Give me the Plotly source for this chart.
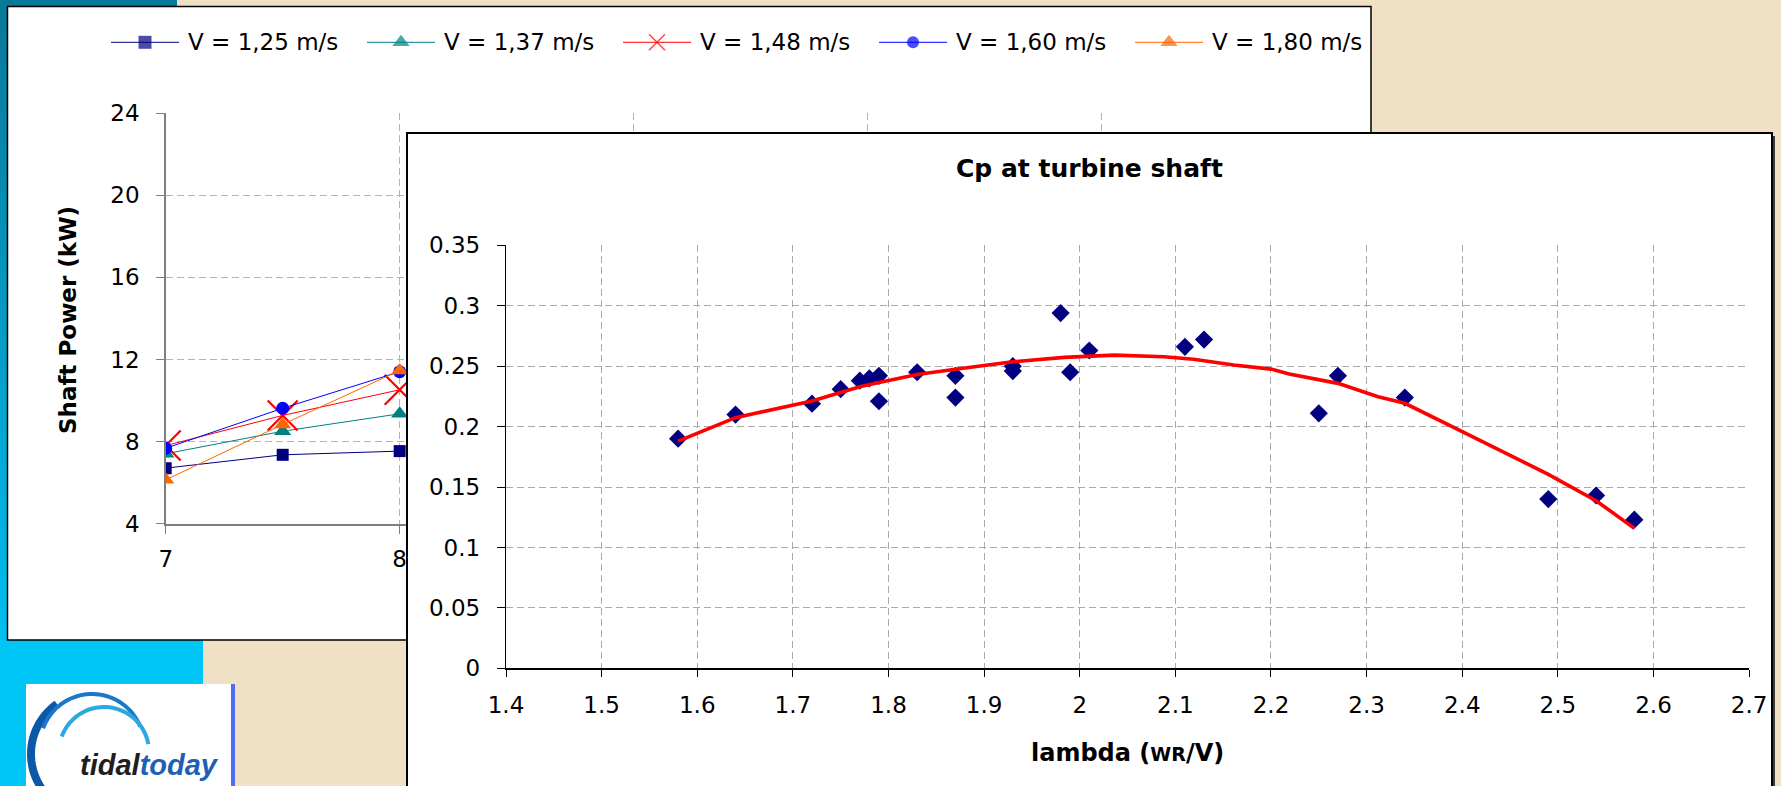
import numpy as np
import plotly.graph_objects as go

W, H = 1781, 786
FONT = "DejaVu Sans"

# ---- Shaft power vs rotor speed (rpm, kW) ----
rpm = [7, 7.5, 8]
power_v125 = [6.70, 7.35, 7.53]
power_v137 = [7.40, 8.50, 9.35]
power_v148 = [7.80, 9.27, 10.52]
power_v160 = [7.67, 9.62, 11.40]
power_v180 = [6.13, 8.83, 11.46]
speed_labels = ["V = 1,25 m/s", "V = 1,37 m/s", "V = 1,48 m/s", "V = 1,60 m/s", "V = 1,80 m/s"]
rpm_ticks = [7, 8, 9, 10, 11, 12]
power_ticks = [4, 8, 12, 16, 20, 24]

# ---- Cp at turbine shaft vs tip speed ratio ----
lam = [1.58, 1.64, 1.72, 1.75, 1.77, 1.78, 1.79, 1.79, 1.83, 1.87, 1.87, 1.93,
       1.93, 1.98, 1.99, 2.01, 2.11, 2.13, 2.25, 2.27, 2.34, 2.49, 2.54, 2.58]
cp = [0.190, 0.210, 0.219, 0.231, 0.238, 0.240, 0.242, 0.221, 0.245, 0.242, 0.224, 0.250,
      0.246, 0.294, 0.245, 0.263, 0.266, 0.272, 0.211, 0.242, 0.224, 0.140, 0.143, 0.123]
trend_lam = [1.58, 1.64, 1.72, 1.77, 1.79, 1.83, 1.87, 1.93, 1.984, 2.01, 2.036, 2.088,
             2.119, 2.161, 2.20, 2.219, 2.27, 2.312, 2.34, 2.40, 2.49, 2.54, 2.58]
trend_cp = [0.188, 0.2074, 0.2212, 0.2330, 0.2366, 0.2432, 0.2474, 0.2537, 0.2573, 0.2584, 0.2592, 0.2578,
            0.2557, 0.2510, 0.2476, 0.2435, 0.2358, 0.2247, 0.2193, 0.1958, 0.1605, 0.1387, 0.1158]
lam_ticks = [1.4, 1.5, 1.6, 1.7, 1.8, 1.9, 2.0, 2.1, 2.2, 2.3, 2.4, 2.5, 2.6, 2.7]
lam_ticktext = ["1.4", "1.5", "1.6", "1.7", "1.8", "1.9", "2", "2.1", "2.2", "2.3", "2.4", "2.5", "2.6", "2.7"]
cp_ticks = [0, 0.05, 0.1, 0.15, 0.2, 0.25, 0.3, 0.35]
cp_ticktext = ["0", "0.05", "0.1", "0.15", "0.2", "0.25", "0.3", "0.35"]

# marker / line style per flow speed
series_styles = [
    dict(color="#000080", symbol="square", size=12, lw=0),
    dict(color="#008080", symbol="triangle-up", size=15, lw=0),
    dict(color="#ff0000", symbol="x-thin-open", size=30, lw=2.2),
    dict(color="#0000ff", symbol="circle", size=13, lw=0),
    dict(color="#ff6600", symbol="triangle-up", size=15, lw=0),
]
legend_sizes = [13, 15, 16, 12, 15]


def fx(x):
    return x / W


def fy(y):
    return 1 - y / H


def rect(x0, y0, x1, y1, fill, line_color=None, line_width=0, layer="below"):
    return dict(type="rect", xref="paper", yref="paper",
                x0=fx(x0), x1=fx(x1), y0=fy(y1), y1=fy(y0),
                fillcolor=fill, layer=layer,
                line=dict(color=line_color or fill, width=line_width))


def arc_path(cx, cy, r, a0, a1, n=40):
    t = np.radians(np.linspace(a0, a1, n))
    xs = cx + r * np.cos(t)
    ys = cy - r * np.sin(t)
    pts = [f"{fx(x):.5f},{fy(y):.5f}" for x, y in zip(xs, ys)]
    return "M" + " L".join(pts)


fig = go.Figure()

# back chart series
power_series = [power_v125, power_v137, power_v148, power_v160, power_v180]
for name, vals, st in zip(speed_labels, power_series, series_styles):
    fig.add_trace(go.Scatter(
        x=rpm, y=vals, name=name, mode="lines+markers", xaxis="x", yaxis="y",
        line=dict(color=st["color"], width=1),
        marker=dict(symbol=st["symbol"], size=st["size"], color=st["color"],
                    line=dict(width=st["lw"], color=st["color"])),
        hoverinfo="skip"))

# white card in front of the back chart
fig.add_trace(go.Scatter(x=[0.5], y=[0.5], mode="markers", xaxis="x2", yaxis="y2",
                         marker=dict(opacity=0), hoverinfo="skip"))

# Cp chart
fig.add_trace(go.Scatter(x=lam, y=cp, mode="markers", xaxis="x3", yaxis="y3",
                         marker=dict(symbol="diamond", size=14, color="#000080"),
                         hoverinfo="skip"))
fig.add_trace(go.Scatter(x=trend_lam, y=trend_cp, mode="lines", xaxis="x3", yaxis="y3",
                         line=dict(color="#ff0000", width=3.6), hoverinfo="skip"))

# legend keys, drawn in a pixel-scaled strip above the back chart
leg_x0 = [111 + 256 * i for i in range(5)]
LEG_Y = 42.3
fig.add_trace(go.Scatter(
    x=[x + 34 for x in leg_x0], y=[LEG_Y] * 5, mode="markers", xaxis="x4", yaxis="y4",
    hoverinfo="skip",
    marker=dict(symbol=[s["symbol"] for s in series_styles], size=legend_sizes,
                color=[s["color"] for s in series_styles],
                line=dict(width=[0, 0, 1.6, 0, 0], color=[s["color"] for s in series_styles]))))

grid_dash = "7px,4px"
tick_font = dict(family=FONT, size=23, color="#000000")

shapes = []
# slide decoration: left strip gradient, header band, lower block
top_c = np.array([10, 120, 152])
bot_c = np.array([0, 190, 238])
nb = 40
for i in range(nb):
    c = top_c + (bot_c - top_c) * i / (nb - 1)
    col = "rgb(%d,%d,%d)" % tuple(c.round().astype(int))
    shapes.append(rect(0, 640 * i / nb, 8, 640 * (i + 1) / nb + 0.5, col))
shapes.append(rect(0, 0, 177, 7, "rgb(10,120,152)"))
shapes.append(rect(0, 640, 203, 786, "#00c6f7"))
# back card
shapes.append(rect(7.5, 6.5, 1371, 640, "#ffffff", "#000000", 1.5))
# logo
shapes.append(rect(26, 684, 231, 790, "#ffffff"))
shapes.append(rect(231, 684, 235, 790, "#4d6ef5"))
shapes.append(dict(type="path", xref="paper", yref="paper", layer="below",
                   path=arc_path(92, 754, 61, 125, 245), line=dict(color="#0b58a8", width=8)))
shapes.append(dict(type="path", xref="paper", yref="paper", layer="below",
                   path=arc_path(92, 746, 52, 22, 160), line=dict(color="#1a78c8", width=4)))
shapes.append(dict(type="path", xref="paper", yref="paper", layer="below",
                   path=arc_path(104, 752, 45, 10, 160), line=dict(color="#2aa8e2", width=4)))
# legend lines
for x0, st in zip(leg_x0, series_styles):
    shapes.append(dict(type="line", xref="paper", yref="paper", layer="below",
                       x0=fx(x0), x1=fx(x0 + 68), y0=fy(LEG_Y), y1=fy(LEG_Y),
                       line=dict(color=st["color"], width=1)))
# front card border and shadow
shapes.append(rect(1772, 136, 1775, 790, "#3a3a3a"))
shapes.append(dict(type="rect", xref="paper", yref="paper", layer="above",
                   x0=fx(407), x1=fx(1772), y0=fy(792), y1=fy(133),
                   line=dict(color="#000000", width=2), fillcolor="rgba(0,0,0,0)"))

annotations = []
for x0, name in zip(leg_x0, speed_labels):
    annotations.append(dict(text=name, xref="paper", yref="paper", x=fx(x0 + 75), y=fy(LEG_Y),
                            xanchor="left", yanchor="middle", showarrow=False,
                            font=dict(family=FONT, size=23, color="#000000")))
annotations.append(dict(text="<b>Shaft Power (kW)</b>", xref="paper", yref="paper",
                        x=fx(68), y=fy(320), textangle=-90, showarrow=False,
                        xanchor="center", yanchor="middle",
                        font=dict(family=FONT, size=23, color="#000000")))
annotations.append(dict(text="<b>Cp at turbine shaft</b>", xref="paper", yref="paper",
                        x=fx(1089), y=fy(168), showarrow=False, xanchor="center", yanchor="middle",
                        font=dict(family=FONT, size=25, color="#000000")))
annotations.append(dict(text="<b>lambda (<span style='font-size:19px'>WR</span>/V)</b>",
                        xref="paper", yref="paper", x=fx(1127.5), y=fy(753), showarrow=False,
                        xanchor="center", yanchor="middle",
                        font=dict(family=FONT, size=24, color="#000000")))
annotations.append(dict(text="<b><i>tidal</i></b><span style='color:#1f5fb5'><b><i>today</i></b></span>",
                        xref="paper", yref="paper", x=fx(78), y=fy(765), showarrow=False,
                        xanchor="left", yanchor="middle",
                        font=dict(family="Liberation Sans", size=29, color="#1e1e1e")))

common_axis = dict(automargin=False, fixedrange=True)
fig.update_layout(
    width=W, height=H, autosize=False,
    margin=dict(l=0, r=0, t=0, b=0, pad=0, autoexpand=False),
    paper_bgcolor="#f0e0c6", plot_bgcolor="#ffffff",
    showlegend=False, hovermode=False,
    shapes=shapes, annotations=annotations,
    xaxis=dict(domain=[fx(165.7), fx(1336)], range=[7, 12.002], anchor="y",
               tickvals=rpm_ticks, showgrid=True, gridcolor="#b4b4b4", griddash=grid_dash, gridwidth=1,
               showline=True, linecolor="#7f7f7f", linewidth=2, zeroline=False,
               ticks="outside", ticklen=8, tickwidth=1.5, tickcolor="#7f7f7f",
               ticklabelstandoff=6, tickfont=tick_font, **common_axis),
    yaxis=dict(domain=[fy(523.5), fy(113.3)], range=[4, 24.004], anchor="x",
               tickvals=power_ticks, showgrid=True, gridcolor="#b4b4b4", griddash=grid_dash, gridwidth=1,
               showline=True, linecolor="#7f7f7f", linewidth=1.5, zeroline=False,
               ticks="outside", ticklen=8, tickwidth=1.5, tickcolor="#7f7f7f",
               ticklabelstandoff=12, tickfont=tick_font, **common_axis),
    xaxis2=dict(domain=[fx(407), fx(1772)], range=[0, 1], anchor="y2", visible=False, **common_axis),
    yaxis2=dict(domain=[0, fy(133)], range=[0, 1], anchor="x2", visible=False, **common_axis),
    xaxis3=dict(domain=[fx(506), fx(1749.3)], range=[1.4, 2.7002], anchor="y3",
                tickvals=lam_ticks, ticktext=lam_ticktext,
                showgrid=True, gridcolor="#ababab", griddash=grid_dash, gridwidth=1,
                showline=True, linecolor="#000000", linewidth=1.5, zeroline=False,
                ticks="outside", ticklen=7, tickwidth=1, tickcolor="#000000",
                ticklabelstandoff=9, tickfont=tick_font, **common_axis),
    yaxis3=dict(domain=[fy(668.3), fy(245.3)], range=[0, 0.35005], anchor="x3",
                tickvals=cp_ticks, ticktext=cp_ticktext,
                showgrid=True, gridcolor="#ababab", griddash=grid_dash, gridwidth=1,
                showline=True, linecolor="#000000", linewidth=1.2, zeroline=False,
                ticks="outside", ticklen=8, tickwidth=1, tickcolor="#000000",
                ticklabelstandoff=12, tickfont=tick_font, **common_axis),
    # pixel-scaled strip holding the legend keys
    xaxis4=dict(domain=[fx(100), fx(1360)], range=[100, 1360], anchor="y4", visible=False, **common_axis),
    yaxis4=dict(domain=[fy(70), fy(15)], range=[70, 15], anchor="x4", visible=False, **common_axis),
)

page_js = ("document.documentElement.style.margin='0';document.body.style.margin='0';"
           "document.body.style.overflow='hidden';document.documentElement.style.overflow='hidden';")
fig.write_html("out.html", config=dict(displayModeBar=False, staticPlot=True), post_script=page_js)
